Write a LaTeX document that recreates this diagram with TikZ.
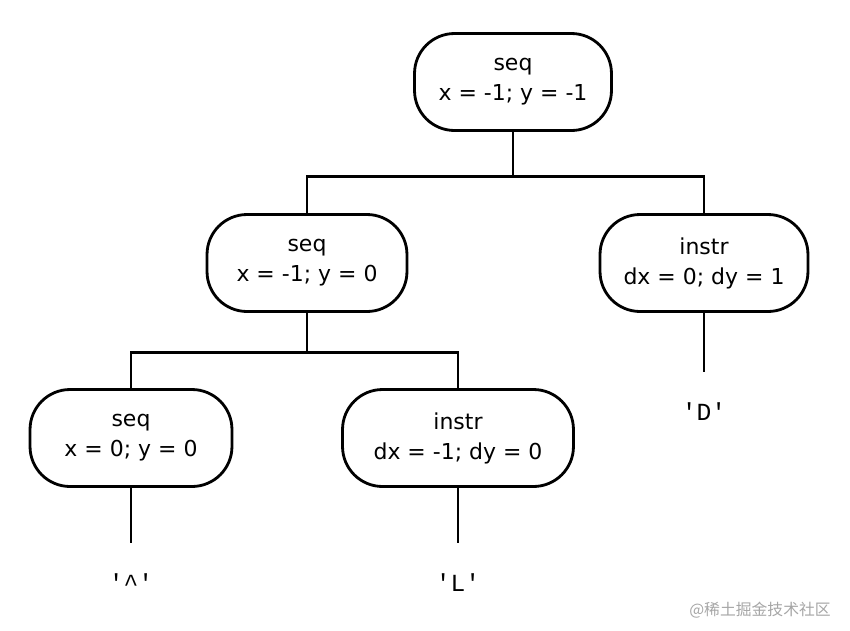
\documentclass[tikz,border=0pt]{standalone}
\usepackage{fontspec}
\setmainfont{DejaVu Sans}
\setmonofont{Liberation Mono}
\newfontfamily\cjkfont{Noto Sans CJK SC}
\begin{document}
\begin{tikzpicture}[x=0.02cm,y=-0.02cm,
    treenode/.style={draw, line width=1.6pt, rounded corners=0.8cm,
        minimum height=1.94cm, align=center, font=\fontsize{12.5}{17}\selectfont},
    leafnode/.style={minimum height=1.6cm, font=\ttfamily\fontsize{14}{16}\selectfont},
    link/.style={line width=1.6pt}]

    % Frame of the picture
    \useasboundingbox (0,0) rectangle (850,630);

    % Tree nodes
    \node[treenode, minimum width=3.94cm] (root) at (513,82) {seq\\x = -1; y = -1};
    \node[treenode, minimum width=4cm] (midseq) at (307,263) {seq\\x = -1; y = 0};
    \node[treenode, minimum width=4.16cm] (rinstr) at (704,263) {instr\\dx = 0; dy = 1};
    \node[treenode, minimum width=4.04cm] (lseq) at (131,438) {seq\\x = 0; y = 0};
    \node[treenode, minimum width=4.62cm] (linstr) at (458,438) {instr\\dx = -1; dy = 0};

    % Leaves
    \node[leafnode] (dleaf) at (704,412) {'D'};
    \node[leafnode] (upleaf) at (131,583) {'\^{}'};
    \node[leafnode] (lleaf) at (458,583) {'L'};

    % Connectors
    \draw[link] (root.south) -- ++(0,45) coordinate (fork1);
    \draw[link] (midseq.north) |- (fork1) -| (rinstr.north);
    \draw[link] (midseq.south) -- ++(0,40) coordinate (fork2);
    \draw[link] (lseq.north) |- (fork2) -| (linstr.north);
    \draw[link] (rinstr.south) -- (dleaf.north);
    \draw[link] (lseq.south) -- (upleaf.north);
    \draw[link] (linstr.south) -- (lleaf.north);

    % Watermark
    \node[text=gray!70, font=\cjkfont\fontsize{9}{10}\selectfont] (mark) at (760,610) {@稀土掘金技术社区};

\end{tikzpicture}
\end{document}
